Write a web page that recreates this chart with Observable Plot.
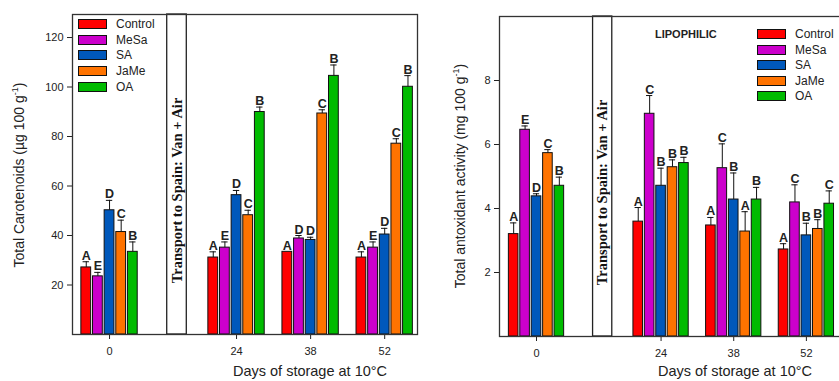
<!DOCTYPE html>
<html>
<head>
<meta charset="utf-8">
<script src="https://cdn.jsdelivr.net/npm/d3@7"></script>
<script src="https://cdn.jsdelivr.net/npm/@observablehq/plot@0.6"></script>
<style>
  html, body { margin: 0; padding: 0; background: #fff; }
  #root { position: relative; width: 839px; height: 381px; overflow: hidden; font-family: "Liberation Sans", Arial, sans-serif; color: #222; }
  .panel { position: absolute; top: 0; }
  .panel svg { max-width: none !important; display: block; }
  .ytitle { position: absolute; white-space: nowrap; font-size: 14px; transform: translate(-50%, -50%) rotate(-90deg); }
  .xtitle { position: absolute; white-space: nowrap; font-size: 14.5px; transform: translate(-50%, -50%); }
  sup { font-size: 9px; vertical-align: 6px; line-height: 0; }
  .legend { position: absolute; font-size: 12px; }
  .legend .row { position: absolute; left: 0; white-space: nowrap; display: flex; align-items: center; height: 14px; transform: translateY(-50%); }
  .legend .sw { width: 27px; height: 8px; border: 1px solid #111; margin-right: 9px; }
  .lipo { position: absolute; font-size: 11px; font-weight: bold; transform: translate(0, -50%); }
</style>
</head>
<body>
<div id="root"></div>
<script>
// ---------- data ----------
const days = [0, 24, 38, 52];
const treatments = ["Control", "MeSa", "SA", "JaMe", "OA"];
const colors = ["#ff0000", "#cc00cc", "#0058bb", "#ff7300", "#00bb00"];
const transportDays = [10.9, 14.6];
const xTicks = [0, 24, 38, 52];

// Total carotenoids (µg 100 g-1)
const caroControl = [27.1, 31.1, 33.4, 31.1];
const caroMeSa    = [23.5, 35.1, 38.8, 35.1];
const caroSA      = [50.2, 56.3, 38.2, 40.4];
const caroJaMe    = [41.4, 48.2, 89.3, 77.1];
const caroOA      = [33.4, 89.9, 104.5, 100.1];
const caroControlSE = [2.3, 2.3, 0, 2.3];
const caroMeSaSE    = [1.6, 2.3, 1.2, 2.3];
const caroSASE      = [4.0, 1.9, 1.1, 2.5];
const caroJaMeSE    = [4.8, 2.0, 1.5, 2.0];
const caroOASE      = [4.0, 2.0, 4.4, 4.5];
const caroControlLetters = ["A", "A", "A", "A"];
const caroMeSaLetters    = ["E", "E", "D", "E"];
const caroSALetters      = ["D", "D", "D", "D"];
const caroJaMeLetters    = ["C", "C", "C", "C"];
const caroOALetters      = ["B", "B", "B", "B"];
const caroYTicks = [20, 40, 60, 80, 100, 120];

// Total antioxidant activity, lipophilic (mg 100 g-1)
const taaControl = [3.20, 3.59, 3.47, 2.72];
const taaMeSa    = [6.46, 6.96, 5.26, 4.19];
const taaSA      = [4.38, 4.71, 4.28, 3.16];
const taaJaMe    = [5.73, 5.29, 3.28, 3.36];
const taaOA      = [4.71, 5.42, 4.28, 4.15];
const taaControlSE = [0.35, 0.44, 0.25, 0.18];
const taaMeSaSE    = [0.12, 0.57, 0.76, 0.55];
const taaSASE      = [0.08, 0.55, 0.83, 0.38];
const taaJaMeSE    = [0.11, 0.23, 0.62, 0.29];
const taaOASE      = [0.27, 0.18, 0.38, 0.40];
const taaControlLetters = ["A", "A", "A", "A"];
const taaMeSaLetters    = ["E", "C", "C", "C"];
const taaSALetters      = ["D", "B", "B", "B"];
const taaJaMeLetters    = ["C", "B", "A", "B"];
const taaOALetters      = ["B", "B", "B", "C"];
const taaYTicks = [2, 4, 6, 8];

// ---------- build tables ----------
function table(values, ses, letters) {
  const rows = [];
  treatments.forEach((t, i) => {
    days.forEach((d, j) => {
      rows.push({day: d, treatment: t, idx: i, value: values[i][j], se: ses[i][j], letter: letters[i][j]});
    });
  });
  return rows;
}
const caroData = table(
  [caroControl, caroMeSa, caroSA, caroJaMe, caroOA],
  [caroControlSE, caroMeSaSE, caroSASE, caroJaMeSE, caroOASE],
  [caroControlLetters, caroMeSaLetters, caroSALetters, caroJaMeLetters, caroOALetters]
);
const taaData = table(
  [taaControl, taaMeSa, taaSA, taaJaMe, taaOA],
  [taaControlSE, taaMeSaSE, taaSASE, taaJaMeSE, taaOASE],
  [taaControlLetters, taaMeSaLetters, taaSALetters, taaJaMeLetters, taaOALetters]
);

const PITCH = 2.2, BARW = 1.85, CAP = 0.6;
const cx = d => d.day + (d.idx - 2) * PITCH;

function chart({data, width, height, margins, xDomain, yDomain, yTicks}) {
  const errRows = data.filter(d => d.se > 0);
  return Plot.plot({
    width, height,
    marginLeft: margins[0], marginRight: margins[1], marginTop: margins[2], marginBottom: margins[3],
    style: {fontFamily: "Liberation Sans, Arial, sans-serif", fontSize: "11px", color: "#222", background: "white"},
    x: {type: "linear", domain: xDomain},
    y: {domain: yDomain},
    color: {domain: treatments, range: colors},
    marks: [
      Plot.rect([transportDays], {x1: d => d[0], x2: d => d[1], y1: yDomain[0], y2: yDomain[1], fill: "white", stroke: "#222", strokeWidth: 1.3}),
      Plot.text([transportDays], {x: d => (d[0] + d[1]) / 2, y: yDomain[1] * 0.45, text: () => "Transport to Spain: Van + Air", rotate: -90, fontFamily: "Liberation Serif, Times New Roman, serif", fontWeight: "bold", fontSize: 14.5, fill: "#111"}),
      Plot.rectY(data, {x1: d => cx(d) - BARW / 2, x2: d => cx(d) + BARW / 2, y1: 0, y2: "value", fill: "treatment", stroke: "#111", strokeWidth: 1, insetLeft: 0, insetRight: 0}),
      Plot.ruleX(errRows, {x: cx, y1: "value", y2: d => d.value + d.se, stroke: "#111", strokeWidth: 1}),
      Plot.ruleY(errRows, {y: d => d.value + d.se, x1: d => cx(d) - CAP, x2: d => cx(d) + CAP, stroke: "#111", strokeWidth: 1}),
      Plot.text(data, {x: cx, y: d => d.value + d.se, text: "letter", lineAnchor: "bottom", dy: -2, fontWeight: "bold", fontSize: 12.5, fill: "#222"}),
      Plot.axisX({ticks: xTicks, tickSize: 5, tickPadding: 8, label: null, tickFormat: d => String(d)}),
      Plot.axisY({ticks: yTicks, tickSize: 5, tickPadding: 4, label: null}),
      Plot.frame({stroke: "#333", strokeWidth: 1.3})
    ]
  });
}

const root = document.getElementById("root");

function addPanel(svg, left, width) {
  const div = document.createElement("div");
  div.className = "panel";
  div.style.left = left + "px";
  div.style.width = width + "px";
  div.appendChild(svg);
  root.appendChild(div);
}

addPanel(chart({data: caroData, width: 420, height: 381, margins: [72, 3, 14, 47], xDomain: [-7.0, 58.2], yDomain: [0, 129.3], yTicks: caroYTicks}), 0, 420);
addPanel(chart({data: taaData, width: 440, height: 381, margins: [79, 10, 16, 45], xDomain: [-7.13, 60.5], yDomain: [0, 10], yTicks: taaYTicks}), 420, 440);

// ---------- titles & legends (HTML overlays) ----------
function addEl(cls, html, x, y) {
  const el = document.createElement("div");
  el.className = cls;
  el.innerHTML = html;
  el.style.left = x + "px";
  el.style.top = y + "px";
  root.appendChild(el);
  return el;
}
addEl("ytitle", "Total Carotenoids (µg 100 g<sup>-1</sup>)", 19, 175);
addEl("ytitle", "Total antoxidant activity (mg 100 g<sup>-1</sup>)", 460, 176);
addEl("xtitle", "Days of storage at 10°C", 310, 371);
addEl("xtitle", "Days of storage at 10°C", 735, 371);
addEl("lipo", "LIPOPHILIC", 655, 34);

function legend(x, y0, step) {
  const lg = document.createElement("div");
  lg.className = "legend";
  lg.style.left = x + "px";
  lg.style.top = y0 + "px";
  treatments.forEach((t, i) => {
    const row = document.createElement("div");
    row.className = "row";
    row.style.top = (i * step) + "px";
    row.innerHTML = `<div class="sw" style="background:${colors[i]}"></div><span>${t}</span>`;
    lg.appendChild(row);
  });
  root.appendChild(lg);
}
legend(78, 24, 15.7);
legend(757, 34, 15.6);
</script>
</body>
</html>
